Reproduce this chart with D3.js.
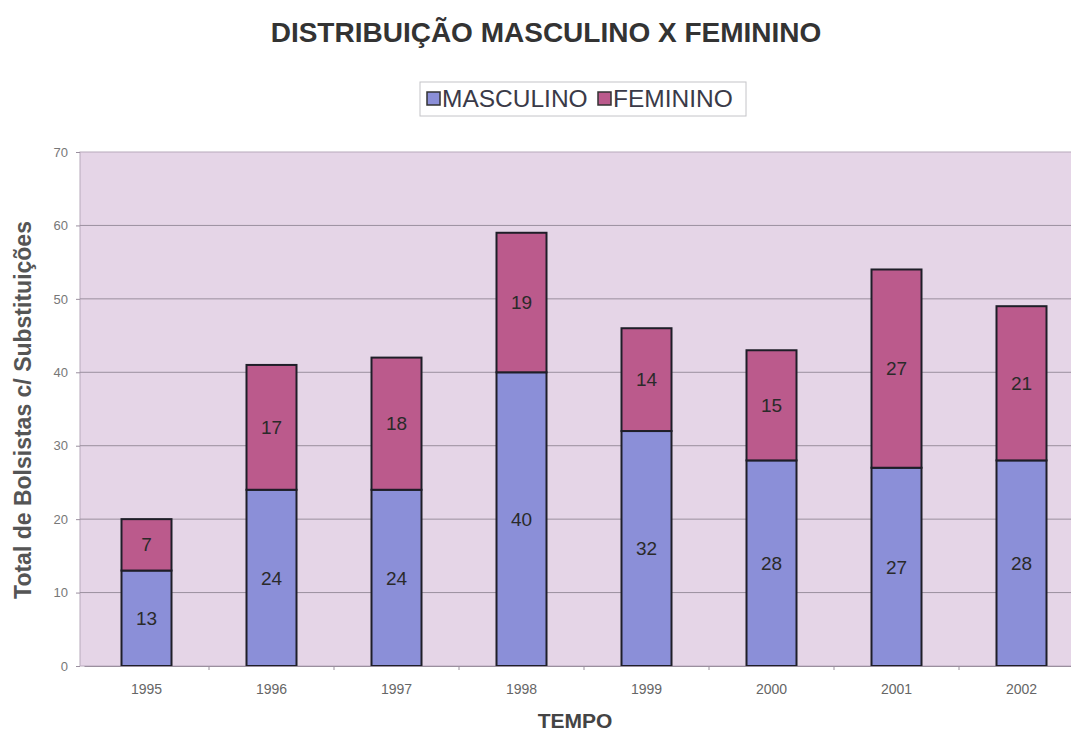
<!DOCTYPE html>
<html>
<head>
<meta charset="utf-8">
<script src="https://cdn.jsdelivr.net/npm/d3@7"></script>
<style>
  body { margin: 0; background: #fff; }
  svg { display: block; font-family: "Liberation Sans", Arial, sans-serif; }
</style>
</head>
<body>
<svg width="1071" height="734"></svg>
<script>
var anos = ["1995", "1996", "1997", "1998", "1999", "2000", "2001", "2002"];
var masculino = [13, 24, 24, 40, 32, 28, 27, 28];
var feminino = [7, 17, 18, 19, 14, 15, 27, 21];
var series = ["MASCULINO", "FEMININO"];
var cores = ["#8b8fd8", "#bb5a8c"];
var yTicks = [0, 10, 20, 30, 40, 50, 60, 70];

var svg = d3.select("svg"),
    margin = {top: 152, left: 80, bottom: 68},
    width = 1004,
    height = 734 - margin.top - margin.bottom;

var rows = anos.map(function(a, i) {
  return {ano: a, MASCULINO: masculino[i], FEMININO: feminino[i]};
});
var stack = d3.stack().keys(series)(rows);

// categorias ocupam 125px cada, um pouco deslocadas para a direita
var x = d3.scaleBand().domain(anos).range([4, 1004]).paddingInner(0.6).paddingOuter(0.3);
var xb = d3.scaleBand().domain(anos).range([4, 1004]);
var y = d3.scaleLinear().domain([0, 70]).range([height, 0]);

var g = svg.append("g").attr("transform", "translate(" + margin.left + "," + margin.top + ")");

g.append("rect")
  .attr("width", width).attr("height", height)
  .attr("fill", "#e5d5e7").attr("stroke", "#b8a9bc");

g.append("g").selectAll("line")
  .data(yTicks.slice(1, -1))
  .enter().append("line")
    .attr("x1", 0).attr("x2", width)
    .attr("y1", function(d) { return y(d); })
    .attr("y2", function(d) { return y(d); })
    .attr("stroke", "#9a8f9e").attr("stroke-width", 1);

var layer = g.selectAll(".serie")
  .data(stack)
  .enter().append("g")
    .attr("fill", function(d, i) { return cores[i]; });

layer.selectAll("rect")
  .data(function(d) { return d; })
  .enter().append("rect")
    .attr("x", function(d) { return x(d.data.ano); })
    .attr("y", function(d) { return y(d[1]); })
    .attr("width", x.bandwidth())
    .attr("height", function(d) { return y(d[0]) - y(d[1]); })
    .attr("stroke", "#1e1e28").attr("stroke-width", 2);

layer.selectAll("text")
  .data(function(d) { return d; })
  .enter().append("text")
    .attr("x", function(d) { return x(d.data.ano) + x.bandwidth() / 2; })
    .attr("y", function(d) { return (y(d[0]) + y(d[1])) / 2; })
    .attr("dy", "0.35em")
    .attr("text-anchor", "middle")
    .attr("fill", "#2a2a2a")
    .attr("font-size", 19)
    .text(function(d) { return d[1] - d[0]; });

// eixo y
var yAxis = g.append("g")
  .call(d3.axisLeft(y).tickValues(yTicks).tickSize(4).tickPadding(8));
yAxis.select(".domain").remove();
yAxis.selectAll("line").attr("stroke", "#9a8f9e");
yAxis.selectAll("text").attr("fill", "#777").attr("font-size", 13).attr("font-family", "Liberation Sans, Arial, sans-serif");

// eixo x
var xAxis = g.append("g").attr("transform", "translate(0," + height + ")")
  .call(d3.axisBottom(xb).tickSize(0).tickPadding(18));
xAxis.select(".domain").attr("stroke", "#9a8f9e");
xAxis.selectAll("text").attr("fill", "#666").attr("font-size", 14).attr("font-family", "Liberation Sans, Arial, sans-serif");
xAxis.selectAll(".sep")
  .data(anos.slice(1))
  .enter().append("line")
    .attr("class", "sep")
    .attr("x1", function(d) { return xb(d); }).attr("x2", function(d) { return xb(d); })
    .attr("y1", 0).attr("y2", 4)
    .attr("stroke", "#9a8f9e");

// titulos
svg.append("text")
  .attr("x", 546).attr("y", 42)
  .attr("text-anchor", "middle")
  .attr("font-size", 28).attr("font-weight", "bold").attr("fill", "#333")
  .text("DISTRIBUIÇÃO MASCULINO X FEMININO");

svg.append("text")
  .attr("x", 575).attr("y", 728)
  .attr("text-anchor", "middle")
  .attr("font-size", 21).attr("font-weight", "bold").attr("fill", "#444")
  .text("TEMPO");

svg.append("text")
  .attr("transform", "translate(31,410) rotate(-90)")
  .attr("text-anchor", "middle")
  .attr("font-size", 23).attr("font-weight", "bold").attr("fill", "#555")
  .text("Total de Bolsistas c/ Substituições");

// legenda
var leg = svg.append("g").attr("transform", "translate(420,82)");
leg.append("rect").attr("width", 326).attr("height", 34)
  .attr("fill", "#fff").attr("stroke", "#c4c4c8");
var items = leg.selectAll(".item")
  .data(series)
  .enter().append("g")
    .attr("transform", function(d, i) { return "translate(" + (i === 0 ? 7 : 178) + ",0)"; });
items.append("rect")
  .attr("y", 10).attr("width", 13).attr("height", 13)
  .attr("fill", function(d, i) { return cores[i]; })
  .attr("stroke", "#333").attr("stroke-width", 1.5);
items.append("text")
  .attr("x", 15).attr("y", 25)
  .attr("font-size", 24.5).attr("fill", "#3a3a48")
  .text(function(d) { return d; });
</script>
</body>
</html>
